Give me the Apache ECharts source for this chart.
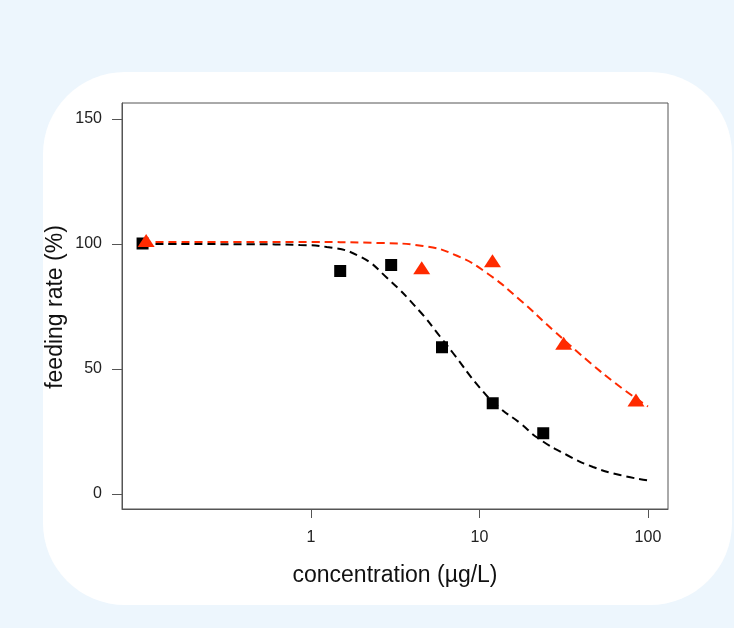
<!DOCTYPE html>
<html>
<head>
<meta charset="utf-8">
<script src="https://cdn.jsdelivr.net/npm/echarts@6/dist/echarts.min.js"></script>
<style>
html,body{margin:0;padding:0;background:#edf6fd;}
#chart{width:734px;height:628px;}
</style>
</head>
<body>
<div id="chart"></div>
<script>
// Observed points: [concentration µg/L, feeding rate %]
const blackConc = [0.1, 1.49, 2.99, 5.99, 11.98, 23.9];
const blackRate = [100.2, 89.2, 91.6, 58.7, 36.3, 24.3];
const redConc = [0.105, 4.54, 11.94, 31.6, 84.9];
const redRate = [101.4, 90.5, 93.3, 60.3, 37.6];

// Fitted curves
const blackCurveConc = [0.1, 0.435, 0.86, 1.24, 1.95, 2.83, 4.43, 5.83, 6.96, 10.07, 13.2, 17.4, 22.2, 33.0, 47.2, 68.2, 100];
const blackCurveRate = [100, 99.9, 99.6, 98.8, 95, 86.4, 73, 63, 56.4, 42.4, 34.4, 28.4, 22.4, 15.6, 10.8, 7.6, 5.4];
const redCurveConc = [0.1, 0.86, 2.57, 4.62, 7.35, 11.1, 17.4, 27.3, 43.4, 68.2, 100];
const redCurveRate = [100.8, 100.8, 100.4, 99.2, 95.3, 88.3, 77.6, 65.6, 53.6, 42.9, 35];

const xTicks = [1, 10, 100];
const yTicks = [0, 50, 100, 150];

const xLabel = 'concentration (µg/L)';
const yLabel = 'feeding rate (%)';

const zip = (a, b) => a.map((v, i) => [v, b[i]]);

const chart = echarts.init(document.getElementById('chart'), null, {renderer: 'canvas'});
const font = '"Liberation Sans", Arial, sans-serif';
const option = {
  backgroundColor: '#edf6fd',
  animation: false,
  graphic: [
    {type: 'rect', z: -10, shape: {x: 43, y: 72, width: 689, height: 533, r: 82}, style: {fill: '#ffffff'}},
    {type: 'text', x: 395, y: 576, style: {text: xLabel, font: '23px ' + font, fill: '#111', align: 'center', verticalAlign: 'middle'}},
    {type: 'text', x: 56, y: 307, rotation: Math.PI / 2, style: {text: yLabel, font: '23px ' + font, fill: '#111', align: 'center', verticalAlign: 'middle'}}
  ],
  grid: {left: 122, right: 66, top: 103, bottom: 119, show: true, borderColor: '#555', borderWidth: 1, backgroundColor: 'transparent'},
  xAxis: {
    type: 'log', logBase: 10, min: 0.0755, max: 131.5,
    axisLine: {show: true, onZero: false, lineStyle: {color: '#555', width: 1}},
    axisTick: {show: true, customValues: xTicks, length: 9, lineStyle: {color: '#555'}},
    axisLabel: {show: true, customValues: xTicks, margin: 21, color: '#222', fontSize: 16, fontFamily: font},
    splitLine: {show: false}, minorTick: {show: false}
  },
  yAxis: {
    type: 'value', min: -6, max: 156.4,
    axisLine: {show: true, onZero: false, lineStyle: {color: '#555', width: 1}},
    axisTick: {show: true, customValues: yTicks, length: 10, lineStyle: {color: '#555'}},
    axisLabel: {show: true, customValues: yTicks, margin: 20, color: '#222', fontSize: 16, fontFamily: font},
    splitLine: {show: false}
  },
  series: [
    {type: 'line', data: zip(blackCurveConc, blackCurveRate), smooth: 0.5, showSymbol: false, symbol: 'none',
     lineStyle: {color: '#000', width: 2, type: [8, 5]}, z: 2},
    {type: 'line', data: zip(redCurveConc, redCurveRate), smooth: 0.5, showSymbol: false, symbol: 'none',
     lineStyle: {color: '#ff2a00', width: 2, type: [8, 5]}, z: 2},
    {type: 'scatter', data: zip(blackConc, blackRate), symbol: 'rect', symbolSize: 12, itemStyle: {color: '#000', opacity: 1}, z: 3},
    {type: 'scatter', data: zip(redConc, redRate), symbol: 'triangle', symbolSize: [17, 13], itemStyle: {color: '#ff2a00', opacity: 1}, z: 4}
  ]
};
chart.setOption(option);
</script>
</body>
</html>
